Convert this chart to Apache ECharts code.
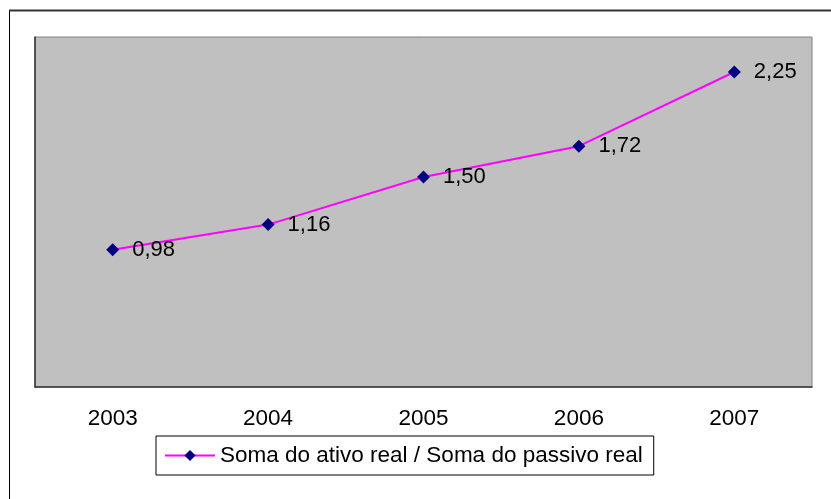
<!DOCTYPE html>
<html>
<head>
<meta charset="utf-8">
<script src="https://cdn.jsdelivr.net/npm/echarts@6/dist/echarts.min.js"></script>
<style>html,body{margin:0;padding:0;background:#fff;}#c{width:831px;height:499px;}</style>
</head>
<body>
<div id="c"></div>
<script>
const categories = ['2003', '2004', '2005', '2006', '2007'];
const seriesName = 'Soma do ativo real / Soma do passivo real';
const values = [0.98, 1.16, 1.50, 1.72, 2.25];

const chart = echarts.init(document.getElementById('c'));
const font = "'Liberation Sans', Arial, sans-serif";
chart.setOption({
  animation: false,
  backgroundColor: '#ffffff',
  textStyle: { fontFamily: font },
  grid: {
    left: 35, right: 19, top: 37, bottom: 112,
    show: true, backgroundColor: '#C0C0C0', borderColor: '#808080', borderWidth: 1
  },
  xAxis: {
    type: 'category', data: categories, boundaryGap: true,
    axisLine: { show: true, lineStyle: { color: '#333', width: 1.5 } },
    axisTick: { show: false },
    axisLabel: { color: '#000', fontSize: 22.5, margin: 20, fontFamily: font }
  },
  yAxis: {
    type: 'value', min: 0, max: 2.5, interval: 0.5,
    axisLine: { show: true, lineStyle: { color: '#333', width: 1.5 } },
    axisTick: { show: false },
    axisLabel: { show: false },
    splitLine: { show: false }
  },
  legend: {
    show: true, left: 156, top: 436,
    data: [seriesName],
    backgroundColor: '#fff', borderColor: '#000', borderWidth: 1,
    padding: [8, 11, 8, 8],
    itemWidth: 50, itemHeight: 14, itemGap: 5,
    textStyle: { color: '#000', fontSize: 22.5, fontFamily: font }
  },
  graphic: [
    { type: 'line', shape: { x1: 9.5, y1: 10, x2: 9.5, y2: 499 }, style: { stroke: '#000', lineWidth: 1 }, silent: true },
    { type: 'line', shape: { x1: 9, y1: 10.5, x2: 831, y2: 10.5 }, style: { stroke: '#333', lineWidth: 2 }, silent: true }
  ],
  series: [{
    name: seriesName,
    type: 'line',
    data: values,
    symbol: 'diamond', symbolSize: 13,
    lineStyle: { color: '#FF00FF', width: 2 },
    itemStyle: { color: '#000080' },
    label: {
      show: true, position: 'right', distance: 13,
      color: '#000', fontSize: 22, fontFamily: font,
      formatter: p => p.value.toFixed(2).replace('.', ',')
    }
  }]
});
</script>
</body>
</html>
